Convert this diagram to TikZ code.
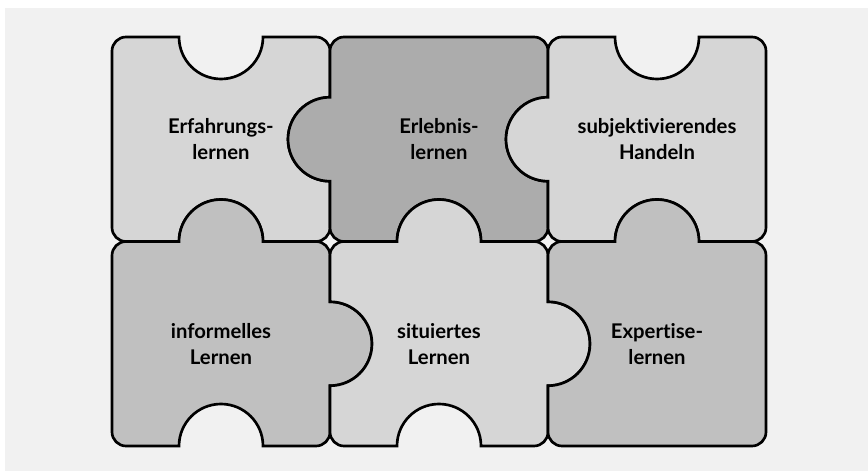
\documentclass[tikz,border=0pt]{standalone}
\usepackage{fontspec}
\setsansfont{Lato}[Ligatures={NoCommon,NoRare}]
\usepackage{xcolor}
\usepackage{tikz}

\definecolor{bgGray}{HTML}{F1F1F1}
\definecolor{pieceLight}{HTML}{D6D6D6}
\definecolor{pieceMid}{HTML}{C0C0C0}
\definecolor{pieceDark}{HTML}{ACACAC}

\newcommand{\piecew}{218}
\newcommand{\pieceh}{204.5}
\newcommand{\tabr}{42}
\newcommand{\cornr}{14}

% one piece: #1 fill, #2,#3 lower left corner, #4-#7 top/right/bottom/left (1 tab, -1 hole, 0 flat)
\newcommand{\puzzlepiece}[7]{%
  \filldraw[piece, fill=#1]
    (#2, {#3+\pieceh-\cornr}) arc[start angle=180, end angle=90, radius=\cornr]
    -- ({#2+\piecew/2-\tabr}, {#3+\pieceh}) arc[start angle=180, delta angle={-180*(#4)}, radius=\tabr]
    -- ({#2+\piecew-\cornr}, {#3+\pieceh}) arc[start angle=90, end angle=0, radius=\cornr]
    -- ({#2+\piecew}, {#3+\pieceh/2+\tabr}) arc[start angle=90, delta angle={-180*(#5)}, radius=\tabr]
    -- ({#2+\piecew}, {#3+\cornr}) arc[start angle=0, end angle=-90, radius=\cornr]
    -- ({#2+\piecew/2+\tabr}, #3) arc[start angle=0, delta angle={-180*(#6)}, radius=\tabr]
    -- ({#2+\cornr}, #3) arc[start angle=-90, end angle=-180, radius=\cornr]
    -- (#2, {#3+\pieceh/2-\tabr}) arc[start angle=-90, delta angle={-180*(#7)}, radius=\tabr]
    -- cycle;%
}

\begin{document}
\begin{tikzpicture}[
    x=0.75pt, y=0.75pt,
    piece/.style={draw=black, line width=2pt},
    piecetext/.style={font=\sffamily\bfseries\fontsize{15.2}{19.5}\selectfont, align=center, text=black},
]
\useasboundingbox (0,0) rectangle (868,471);
\fill[white] (0,0) rectangle (868,471);
\fill[bgGray] (5,0) rectangle (868,463);

% Top row
\puzzlepiece{pieceLight}{112}{229.5}{-1}{-1}{-1}{0}
\puzzlepiece{pieceDark}{330}{229.5}{0}{-1}{-1}{1}
\puzzlepiece{pieceLight}{548}{229.5}{-1}{0}{-1}{1}

% Bottom row
\puzzlepiece{pieceMid}{112}{25}{1}{1}{-1}{0}
\puzzlepiece{pieceLight}{330}{25}{1}{1}{-1}{-1}
\puzzlepiece{pieceMid}{548}{25}{1}{0}{0}{-1}

% Texts
\node[piecetext] (erfahrung) at (221, 331.75) {Erfahrungs-\\lernen};
\node[piecetext] (erlebnis) at (439, 331.75) {Erlebnis-\\lernen};
\node[piecetext] (subjekt) at (657, 331.75) {subjektivierendes\\Handeln};
\node[piecetext] (informell) at (221, 127.25) {informelles\\Lernen};
\node[piecetext] (situiert) at (439, 127.25) {situiertes\\Lernen};
\node[piecetext] (expertise) at (657, 127.25) {Expertise-\\lernen};

\end{tikzpicture}
\end{document}
